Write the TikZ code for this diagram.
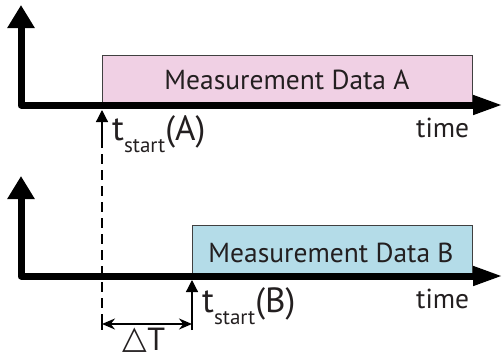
\documentclass[tikz,border=0pt]{standalone}
\usepackage{fontspec}
\setmainfont{PT Sans}
\newfontfamily\symfont{DejaVu Sans}
\usetikzlibrary{arrows.meta}
\definecolor{boxApink}{RGB}{240,208,228}
\definecolor{boxBblue}{RGB}{180,220,232}
\definecolor{txtgray}{RGB}{35,31,32}
\begin{document}
\begin{tikzpicture}[x=1pt,y=-1pt,
  axisline/.style={line width=7pt, line join=round,
    {Triangle[length=23pt,width=26pt]}-{Triangle[length=30pt,width=18pt]}},
  databox/.style={draw=black!75, line width=0.8pt, inner sep=0pt, anchor=north west},
  lbl/.style={text=txtgray, inner sep=0pt, anchor=base, font=\fontsize{27.5}{27.5}\selectfont},
  timelbl/.style={text=txtgray, inner sep=0pt, anchor=base west, font=\fontsize{27.5}{27.5}\selectfont},
  startlbl/.style={text=txtgray, inner sep=0pt, anchor=base west},
  startarrow/.style={line width=1.2pt, -{Triangle[length=12pt,width=12pt]}},
  dashline/.style={line width=1.2pt, dash pattern=on 10pt off 6pt, dash phase=10pt},
  dimline/.style={line width=1.6pt, {Stealth[length=13pt,width=11pt]}-{Stealth[length=13pt,width=11pt]}},
  tick/.style={line width=1.2pt}]
\useasboundingbox (0,0) rectangle (503,359);
% boxes
\node[databox, fill=boxApink, minimum width=370pt, minimum height=47pt] (boxA) at (102,55) {};
\node[databox, fill=boxBblue, minimum width=280pt, minimum height=48pt] (boxB) at (192,225) {};
\node[lbl] (txtA) at (287,89) {Measurement Data A};
\node[lbl] (txtB) at (331,262) {Measurement Data B};
% axes
\coordinate (yA) at (21,5); \coordinate (oA) at (21,105); \coordinate (xA) at (503,105);
\coordinate (yB) at (21,176); \coordinate (oB) at (21,276); \coordinate (xB) at (503,276);
\draw[axisline] (yA) -- (oA) -- (xA);
\draw[axisline] (yB) -- (oB) -- (xB);
\node[timelbl] (timeA) at (416,137) {time};
\node[timelbl] (timeB) at (416,308) {time};
% start markers
\coordinate (tipA) at (102,110); \coordinate (shA) at (102,148); \coordinate (botA) at (102,330);
\coordinate (tipB) at (192,280); \coordinate (botB) at (192,330);
\draw[startarrow] (shA) -- (tipA);
\draw[dashline] (shA) -- (botA);
\draw[startarrow] (botB) -- (tipB);
\node[startlbl] (stA) at (112,140) {\fontsize{35}{35}\selectfont t\raisebox{-12pt}{\fontsize{21}{21}\selectfont start}(A)};
\node[startlbl] (stB) at (202,312) {\fontsize{35}{35}\selectfont t\raisebox{-12pt}{\fontsize{21}{21}\selectfont start}(B)};
% delta T
\coordinate (tkA1) at (102,318); \coordinate (tkA2) at (102,330);
\coordinate (dA) at (102,324); \coordinate (dB) at (192,324);
\draw[tick] (tkA1) -- (tkA2);
\draw[dimline] (dA) -- (dB);
\node[lbl, font=\fontsize{32}{32}\selectfont] (dT) at (144,350) {\raisebox{2pt}{\symfont △}T};
\end{tikzpicture}
\end{document}
